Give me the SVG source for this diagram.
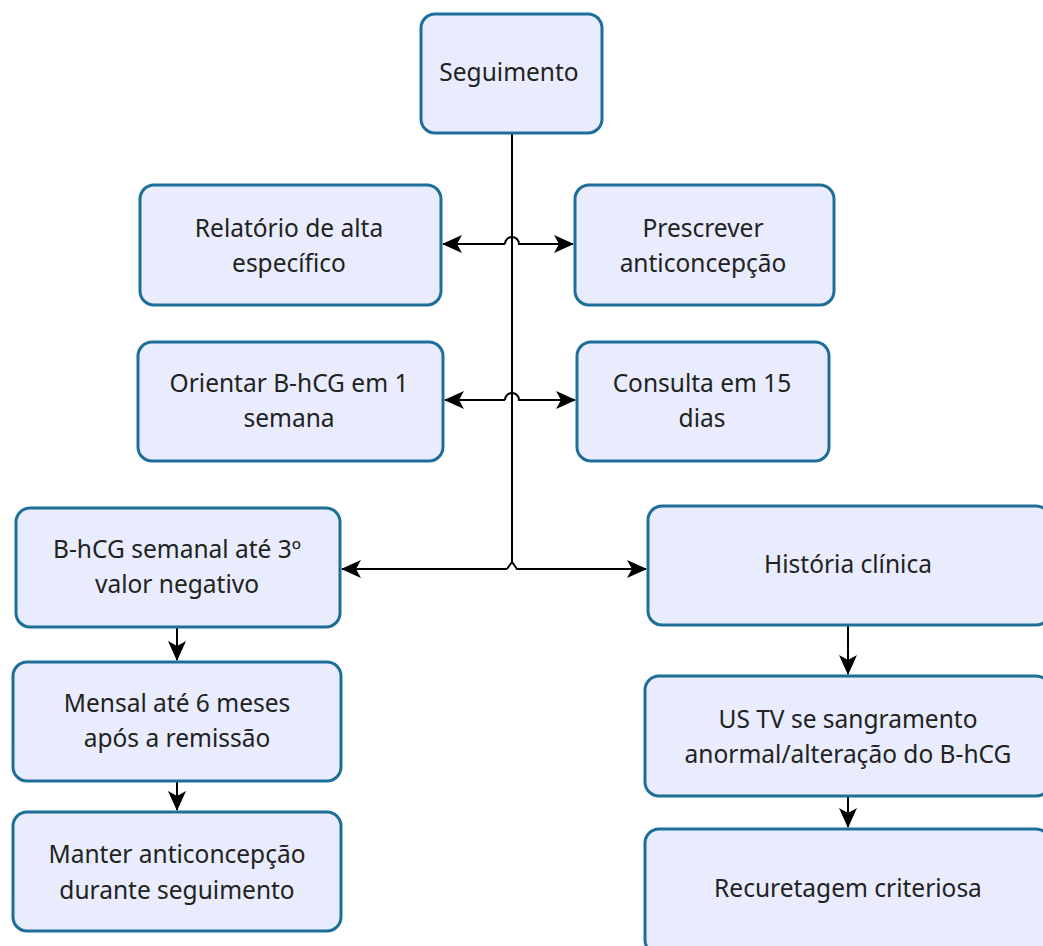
<svg xmlns="http://www.w3.org/2000/svg" width="1043" height="946" viewBox="0 0 1043 946">
  <style>
    .box { fill: #E8ECFC; stroke: #1E6E9A; stroke-width: 3; }
    .lbl { font-family: "Noto Sans", "Open Sans", sans-serif; font-size: 24.5px; fill: #222; text-anchor: middle; }
    .ln { fill: none; stroke: #000; stroke-width: 2; }
  </style>
  <defs>
    <marker id="ah" viewBox="0 0 20 20" refX="19" refY="10" markerWidth="20" markerHeight="20" markerUnits="userSpaceOnUse" orient="auto">
      <path d="M0,1 L20,10 L0,19 L5,10 Z" fill="#000"/>
    </marker>
  </defs>
  <rect width="1043" height="946" fill="#fff"/>

  <g id="connectors">
    <!-- trunk -->
    <path class="ln" d="M512,133 V562 L507,569"/>
    <!-- row 1 -->
    <path class="ln" d="M505,244 H443" marker-end="url(#ah)"/>
    <path class="ln" d="M505,244 A6,6 0 0 1 519,244 H573" marker-end="url(#ah)"/>
    <!-- row 2 -->
    <path class="ln" d="M505,400 H445" marker-end="url(#ah)"/>
    <path class="ln" d="M505,400 A6,6 0 0 1 519,400 H575" marker-end="url(#ah)"/>
    <!-- row 3 -->
    <path class="ln" d="M507,569 H342" marker-end="url(#ah)"/>
    <path class="ln" d="M512,562 L517,569 H646" marker-end="url(#ah)"/>
    <!-- left column -->
    <path class="ln" d="M177,627 V660" marker-end="url(#ah)"/>
    <path class="ln" d="M177,781 V810" marker-end="url(#ah)"/>
    <!-- right column -->
    <path class="ln" d="M848,625 V674" marker-end="url(#ah)"/>
    <path class="ln" d="M848,796 V827" marker-end="url(#ah)"/>
  </g>

  <g id="seguimento">
    <rect class="box" x="421" y="14" width="181" height="119" rx="14"/>
    <text class="lbl" x="509" y="81">Seguimento</text>
  </g>
  <g id="relatorio">
    <rect class="box" x="140" y="185" width="301" height="120" rx="14"/>
    <text class="lbl" x="289" y="237">Relatório de alta</text>
    <text class="lbl" x="289" y="272">específico</text>
  </g>
  <g id="prescrever">
    <rect class="box" x="575" y="185" width="259" height="120" rx="14"/>
    <text class="lbl" x="703" y="237">Prescrever</text>
    <text class="lbl" x="703" y="272">anticoncepção</text>
  </g>
  <g id="orientar">
    <rect class="box" x="138" y="342" width="305" height="119" rx="14"/>
    <text class="lbl" x="289" y="392">Orientar B-hCG em 1</text>
    <text class="lbl" x="289" y="427">semana</text>
  </g>
  <g id="consulta">
    <rect class="box" x="577" y="342" width="252" height="119" rx="14"/>
    <text class="lbl" x="702" y="392">Consulta em 15</text>
    <text class="lbl" x="702" y="427">dias</text>
  </g>
  <g id="bhcg-semanal">
    <rect class="box" x="16" y="508" width="324" height="119" rx="14"/>
    <text class="lbl" x="177" y="558">B-hCG semanal até 3º</text>
    <text class="lbl" x="177" y="593">valor negativo</text>
  </g>
  <g id="historia">
    <rect class="box" x="648" y="506" width="402" height="119" rx="14"/>
    <text class="lbl" x="848" y="573">História clínica</text>
  </g>
  <g id="mensal">
    <rect class="box" x="13" y="662" width="328" height="119" rx="14"/>
    <text class="lbl" x="177" y="712">Mensal até 6 meses</text>
    <text class="lbl" x="177" y="747">após a remissão</text>
  </g>
  <g id="manter">
    <rect class="box" x="13" y="812" width="328" height="119" rx="14"/>
    <text class="lbl" x="177" y="863">Manter anticoncepção</text>
    <text class="lbl" x="177" y="899">durante seguimento</text>
  </g>
  <g id="us-tv">
    <rect class="box" x="645" y="676" width="405" height="120" rx="14"/>
    <text class="lbl" x="848" y="728">US TV se sangramento</text>
    <text class="lbl" x="848" y="763">anormal/alteração do B-hCG</text>
  </g>
  <g id="recuretagem">
    <rect class="box" x="645" y="829" width="405" height="125" rx="14"/>
    <text class="lbl" x="848" y="897">Recuretagem criteriosa</text>
  </g>
</svg>
